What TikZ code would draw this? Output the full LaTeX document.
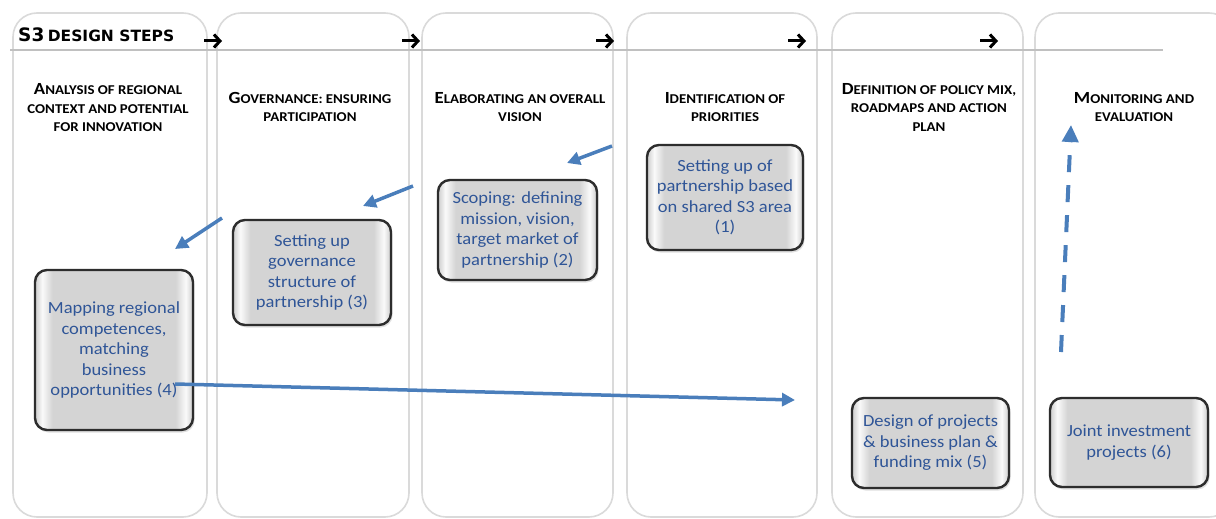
\documentclass[tikz,border=0pt]{standalone}
\usepackage{fontspec}
\setmainfont{Carlito}
\newfontfamily\boxfont{Carlito}[FakeStretch=1.09]
\newfontfamily\headfont{Carlito}[FakeStretch=1.1]
\newfontfamily\titlefont{DejaVu Sans}
\usetikzlibrary{arrows.meta,shadows}
\definecolor{colborder}{RGB}{218,218,218}
\definecolor{hlinecol}{RGB}{192,192,192}
\definecolor{boxtext}{RGB}{47,85,151}
\definecolor{flowblue}{RGB}{74,126,187}
\definecolor{boxedge}{RGB}{45,45,45}
\definecolor{boxgray}{RGB}{212,212,212}
\definecolor{boxlight}{RGB}{250,250,250}
\pgfdeclarehorizontalshading{boxshade}{100bp}{color(0bp)=(boxgray); color(25.4bp)=(boxgray); color(27.3bp)=(boxlight); color(30.5bp)=(boxgray); color(69.5bp)=(boxgray); color(72.7bp)=(boxlight); color(74.6bp)=(boxgray); color(100bp)=(boxgray)}
\newcommand\hsc[2]{{\fontsize{17}{18.5}\selectfont #1}#2}
\tikzset{
  colbox/.style={draw=colborder, line width=1.6pt, rounded corners=24pt, fill=white},
  hrule/.style={draw=hlinecol, line width=1.6pt},
  head/.style={align=center, inner sep=0pt, font=\headfont\bfseries\fontsize{13.5}{18.5}\selectfont},
  steparrow/.style={draw=black, line width=3pt, -{Straight Barb[length=6pt,width=13pt]}},
  stepbox/.style={draw=boxedge, line width=2.4pt, rounded corners=12pt, shading=boxshade,
    align=center, inner sep=0pt, text=boxtext,
    font=\boxfont\fontsize{17}{20.5}\selectfont,
    drop shadow={opacity=0.25, shadow xshift=1.5pt, shadow yshift=-2.5pt}},
  flow/.style={draw=flowblue, line width=3.5pt, -{Triangle[length=13pt,width=13pt]}},
  dflow/.style={draw=flowblue, line width=4pt, dash pattern=on 17pt off 13pt, -{Triangle[length=17pt,width=16pt]}}
}
\begin{document}
\begin{tikzpicture}[x=1pt,y=-1pt]
\useasboundingbox (0,0) rectangle (1216,519);
\clip (0,0) rectangle (1216,519);
% columns
\draw[colbox] (13,13) rectangle (207,517);
\draw[colbox] (217,13) rectangle (409,517);
\draw[colbox] (422,13) rectangle (613,517);
\draw[colbox] (627,13) rectangle (817,517);
\draw[colbox] (832,13) rectangle (1023,517);
\draw[colbox] (1035,13) rectangle (1233,517);
\draw[hrule] (10,50) -- (1163,50);
% title
\node[anchor=base west, inner sep=0pt] (title) at (18,42) {\titlefont\bfseries{\fontsize{18.5}{20}\selectfont S3} \fontsize{15.5}{16}\selectfont DESIGN STEPS};
% step arrows
\foreach \i/\cx in {1/213,2/411,3/605,4/797,5/989}{
  \coordinate (sa\i) at (\cx-9,41);
  \coordinate (sb\i) at (\cx+9,41);
  \draw[steparrow] (sa\i) -- (sb\i);
}
% headers
\node[head] (h1) at (108,108) {\hsc{A}{NALYSIS OF REGIONAL}\\CONTEXT AND POTENTIAL\\FOR INNOVATION};
\node[head] (h2) at (310,107) {\hsc{G}{OVERNANCE: ENSURING}\\PARTICIPATION};
\node[head] (h3) at (520,107) {\hsc{E}{LABORATING AN OVERALL}\\VISION};
\node[head] (h4) at (725,107) {\hsc{I}{DENTIFICATION OF}\\PRIORITIES};
\node[head] (h5) at (929,107) {\hsc{D}{EFINITION OF POLICY MIX,}\\ROADMAPS AND ACTION\\PLAN};
\node[head] (h6) at (1134,107) {\hsc{M}{ONITORING AND}\\EVALUATION};
% boxes
\node[stepbox, minimum width=156pt, minimum height=105pt] (b1) at (725,197.5) {Setting up of\\partnership based\\on shared S3 area\\(1)};
\node[stepbox, minimum width=159pt, minimum height=100pt] (b2) at (517.5,230) {Scoping: defining\\mission, vision,\\target market of\\partnership (2)};
\node[stepbox, minimum width=158pt, minimum height=105pt] (b3) at (312,272.5) {Setting up\\governance\\structure of\\partnership (3)};
\node[stepbox, minimum width=158pt, minimum height=160pt] (b4) at (114,350) {Mapping regional\\competences,\\matching\\business\\opportunities (4)};
\node[stepbox, minimum width=157pt, minimum height=90pt] (b5) at (930.5,443) {Design of projects\\\& business plan \&\\funding mix (5)};
\node[stepbox, minimum width=158pt, minimum height=89pt] (b6) at (1129,442.5) {Joint investment\\projects (6)};
% flow arrows
\coordinate (a1s) at (612,146); \coordinate (a1e) at (567,163);
\coordinate (a2s) at (413,186); \coordinate (a2e) at (363,206);
\coordinate (a3s) at (222,218); \coordinate (a3e) at (175,249);
\coordinate (a4s) at (175,384); \coordinate (a4e) at (795,400);
\coordinate (a5s) at (1061,352); \coordinate (a5e) at (1071,125);
\draw[flow] (a1s) -- (a1e);
\draw[flow] (a2s) -- (a2e);
\draw[flow] (a3s) -- (a3e);
\draw[flow] (a4s) -- (a4e);
\draw[dflow] (a5s) -- (a5e);
\end{tikzpicture}
\end{document}
